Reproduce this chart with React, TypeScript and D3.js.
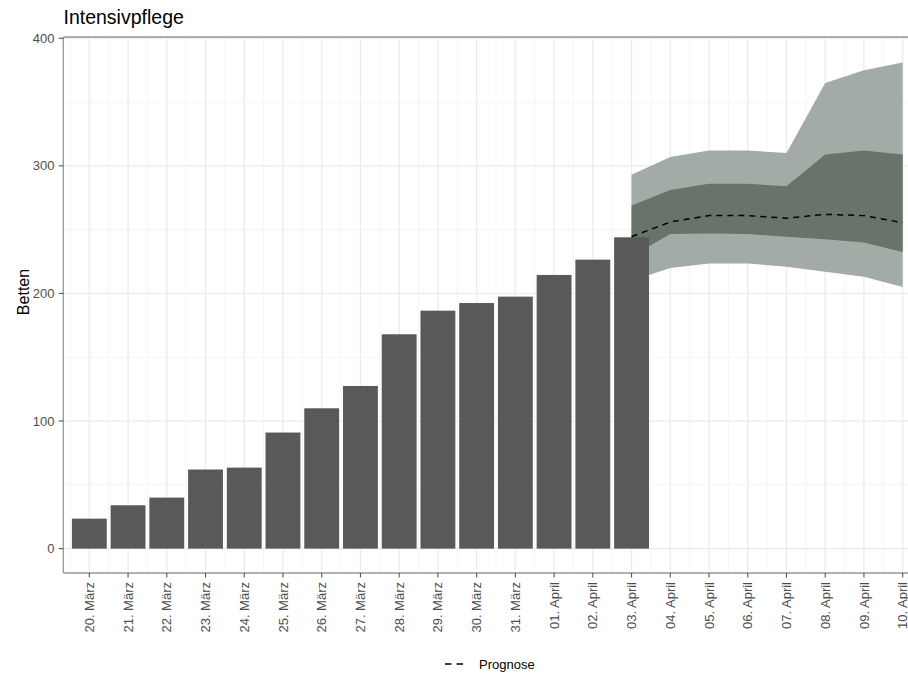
import React from "react";
import * as d3 from "d3";

const categories = [
  "20. März", "21. März", "22. März", "23. März", "24. März", "25. März", "26. März",
  "27. März", "28. März", "29. März", "30. März", "31. März", "01. April", "02. April",
  "03. April", "04. April", "05. April", "06. April", "07. April", "08. April", "09. April", "10. April",
];
const bedValues = [23.5, 34, 40, 62, 63.5, 91, 110, 127.5, 168, 186.5, 192.5, 197.5, 214.5, 226.5, 244];
const forecastStart = 14;
const outerUpper = [293, 307, 312, 312, 310, 365, 375, 381];
const innerUpper = [269, 281, 286, 286, 284, 309, 312, 309];
const median = [244.5, 256, 261, 261, 259, 262, 261, 255.5];
const innerLower = [229, 246.5, 247, 246.5, 244.5, 242.5, 240, 232.5];
const outerLower = [210, 220, 223.5, 223.5, 221, 217, 213, 205];
const yTicks = [0, 100, 200, 300, 400];
const yMinor = [50, 150, 250, 350];

const W = 908;
const H = 677;
const FONT = "'Liberation Sans', Arial, sans-serif";

export default function App() {
  const left = 63.3;
  const top = 37;
  const bottom = 573;
  const right = 928.7;
  const x = d3.scaleLinear().domain([-0.672, categories.length - 1 + 0.672]).range([left, right]);
  const y = d3.scaleLinear().domain([-19.1, 401]).range([bottom, top]);
  const bw = x(0.45) - x(0);

  const fc = outerUpper.map((_, i) => ({
    i: forecastStart + i,
    ou: outerUpper[i],
    iu: innerUpper[i],
    m: median[i],
    il: innerLower[i],
    ol: outerLower[i],
  }));
  const outerArea = d3.area<any>().x((d) => x(d.i)).y0((d) => y(d.ol)).y1((d) => y(d.ou));
  const innerArea = d3.area<any>().x((d) => x(d.i)).y0((d) => y(d.il)).y1((d) => y(d.iu));
  const medLine = d3.line<any>().x((d) => x(d.i)).y((d) => y(d.m));

  const minorX: number[] = [];
  for (let i = -1; i < categories.length; i++) minorX.push(i + 0.5);

  return (
    <svg width={W} height={H} style={{ position: "absolute", left: 0, top: 0, background: "#fff" }}>
      <defs>
        <clipPath id="panel">
          <rect x={left} y={top} width={right - left} height={bottom - top} />
        </clipPath>
      </defs>
      <rect x={0} y={0} width={W} height={H} fill="#fff" />
      <g clipPath="url(#panel)">
        {minorX.map((v) => (
          <line key={"mx" + v} x1={x(v)} x2={x(v)} y1={top} y2={bottom} stroke="#f2f2f2" strokeWidth={0.8} />
        ))}
        {yMinor.map((v) => (
          <line key={"my" + v} x1={left} x2={right} y1={y(v)} y2={y(v)} stroke="#f2f2f2" strokeWidth={0.8} />
        ))}
        {categories.map((c, i) => (
          <line key={"gx" + c} x1={x(i)} x2={x(i)} y1={top} y2={bottom} stroke="#ebebeb" strokeWidth={1.3} />
        ))}
        {yTicks.map((v) => (
          <line key={"gy" + v} x1={left} x2={right} y1={y(v)} y2={y(v)} stroke="#ebebeb" strokeWidth={1.3} />
        ))}
        <path d={outerArea(fc) || ""} fill="#a2aba5" />
        <path d={innerArea(fc) || ""} fill="#68736a" />
        {bedValues.map((v, i) => (
          <rect key={"b" + i} x={x(i) - bw} y={y(v)} width={bw * 2} height={y(0) - y(v)} fill="#595959" />
        ))}
        <path d={medLine(fc) || ""} fill="none" stroke="#000" strokeWidth={1.5} strokeDasharray="6,5" />
      </g>
      {/* panel border */}
      <line x1={left} x2={W} y1={top} y2={top} stroke="#969696" strokeWidth={1.3} />
      <line x1={left} x2={W} y1={bottom} y2={bottom} stroke="#969696" strokeWidth={1.3} />
      <line x1={left} x2={left} y1={top} y2={bottom} stroke="#969696" strokeWidth={1.3} />
      {/* y axis */}
      {yTicks.map((v) => (
        <g key={"yt" + v}>
          <line x1={left - 4.6} x2={left} y1={y(v)} y2={y(v)} stroke="#555" strokeWidth={1.1} />
          <text x={54.5} y={y(v)} dy="0.35em" textAnchor="end" fontFamily={FONT} fontSize={13} fill="#4d4d4d">
            {v}
          </text>
        </g>
      ))}
      {/* x axis */}
      {categories.map((c, i) => (
        <g key={"xt" + c}>
          <line x1={x(i)} x2={x(i)} y1={bottom} y2={bottom + 4.6} stroke="#555" strokeWidth={1.1} />
          <text
            transform={`translate(${x(i)},${bottom + 9}) rotate(-90)`}
            dy="0.35em"
            textAnchor="end"
            fontFamily={FONT}
            fontSize={13}
            fill="#4d4d4d"
          >
            {c}
          </text>
        </g>
      ))}
      <text transform={`translate(28.5,292) rotate(-90)`} textAnchor="middle" fontFamily={FONT} fontSize={16} fill="#000">
        Betten
      </text>
      <text x={63.5} y={24} fontFamily={FONT} fontSize={19.5} fill="#000">
        Intensivpflege
      </text>
      {/* legend */}
      <line x1={445} x2={463.5} y1={664} y2={664} stroke="#000" strokeWidth={1.5} strokeDasharray="6.5,5" />
      <text x={479} y={664} dy="0.35em" fontFamily={FONT} fontSize={13} fill="#000">
        Prognose
      </text>
    </svg>
  );
}
